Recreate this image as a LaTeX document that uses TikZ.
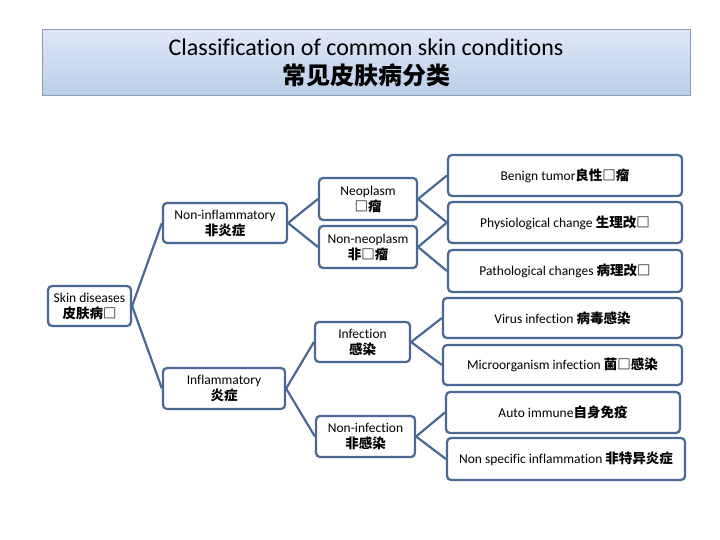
\documentclass[tikz,border=0pt]{standalone}
\usepackage{fontspec}
\setmainfont{Carlito}[Ligatures=NoCommon]
\newfontfamily\cjk{Noto Sans CJK SC}
\usepackage{xcolor}
\usepackage{tikz}
\usetikzlibrary{positioning}

\definecolor{frameblue}{RGB}{74,104,148}
\definecolor{titleedge}{RGB}{140,155,180}
\definecolor{titletop}{RGB}{222,231,246}
\definecolor{titlebot}{RGB}{186,206,232}
\newcommand{\zh}[1]{{\cjk\bfseries #1}}

\begin{document}
\begin{tikzpicture}[
    x=1pt, y=-1pt,
    cat/.style={draw=frameblue, line width=2.2pt, rounded corners=4pt, fill=white, align=center, inner sep=1pt, font=\fontsize{13.5}{16}\selectfont},
    leaf/.style={cat, minimum height=41pt},
    link/.style={draw=frameblue, line width=2.2pt},
    heading/.style={draw=titleedge, line width=1pt, top color=titletop, bottom color=titlebot, align=center, font=\fontsize{24}{29}\selectfont}
]
    \useasboundingbox (0,0) rectangle (720,540);

    \node[heading, minimum width=648pt, minimum height=66pt] (title) at (366,63) {Classification of common skin conditions\\\zh{常见皮肤病分类}};

    \node[cat, minimum width=83pt, minimum height=40pt] (skin) at (89.5,306) {Skin diseases\\\zh{皮肤病□}};

    \node[cat, minimum width=124pt, minimum height=40pt] (noninflam) at (225,223) {Non-inflammatory\\\zh{非炎症}};
    \node[cat, minimum width=122pt, minimum height=41pt] (inflam) at (224,388.5) {Inflammatory\\\zh{炎症}};

    \node[cat, minimum width=98pt, minimum height=42pt] (neo) at (368,199) {Neoplasm\\\zh{□瘤}};
    \node[cat, minimum width=98pt, minimum height=42pt] (nonneo) at (368,247) {Non-neoplasm\\\zh{非□瘤}};
    \node[cat, minimum width=95pt, minimum height=40pt] (infect) at (362.5,342) {Infection\\\zh{感染}};
    \node[cat, minimum width=99pt, minimum height=41pt] (noninfect) at (365.5,436.5) {Non-infection\\\zh{非感染}};

    \node[leaf, minimum width=234pt] (benign) at (565,175.5) {Benign tumor\zh{良性□瘤}};
    \node[leaf, minimum width=234pt] (physio) at (565,222.5) {Physiological change \zh{生理改□}};
    \node[leaf, minimum width=234pt, minimum height=42pt] (patho) at (565,271) {Pathological changes \zh{病理改□}};
    \node[leaf, minimum width=239pt, minimum height=40pt] (virus) at (562.5,318) {Virus infection \zh{病毒感染}};
    \node[leaf, minimum width=239pt, minimum height=40pt] (micro) at (562.5,365) {Microorganism infection \zh{菌□感染}};
    \node[leaf, minimum width=234pt] (auto) at (563,412.5) {Auto immune\zh{自身免疫}};
    \node[leaf, minimum width=238pt, minimum height=42pt] (nonspec) at (566,459) {Non specific inflammation \zh{非特异炎症}};

    \draw[link] (skin.east) -- (noninflam.west);
    \draw[link] (skin.east) -- (inflam.west);
    \draw[link] (noninflam.east) -- (neo.west);
    \draw[link] (noninflam.east) -- (nonneo.west);
    \draw[link] (inflam.east) -- (infect.west);
    \draw[link] (inflam.east) -- (noninfect.west);
    \draw[link] (neo.east) -- (benign.west);
    \draw[link] (neo.east) -- (physio.west);
    \draw[link] (nonneo.east) -- (physio.west);
    \draw[link] (nonneo.east) -- (patho.west);
    \draw[link] (infect.east) -- (virus.west);
    \draw[link] (infect.east) -- (micro.west);
    \draw[link] (noninfect.east) -- (auto.west);
    \draw[link] (noninfect.east) -- (nonspec.west);
\end{tikzpicture}
\end{document}
